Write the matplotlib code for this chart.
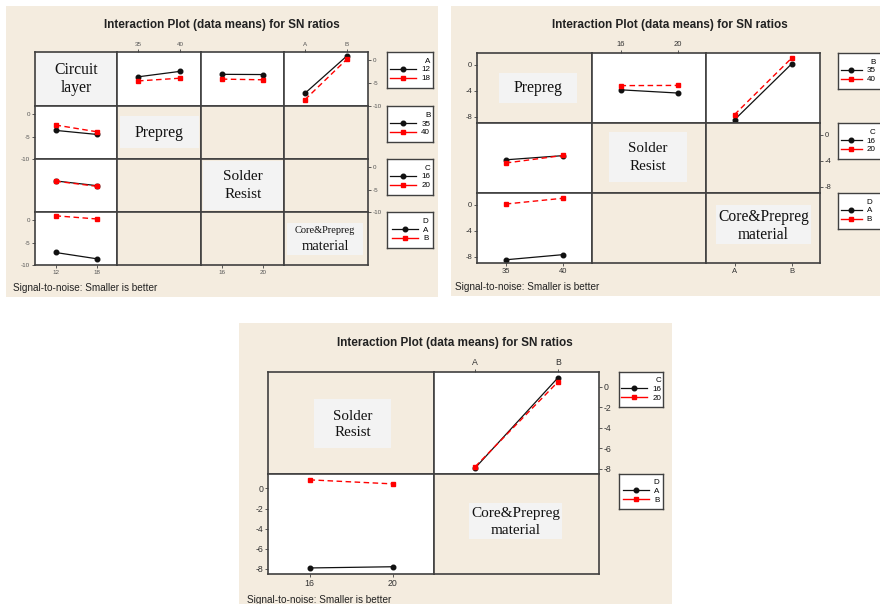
import matplotlib
matplotlib.use("Agg")
import matplotlib.pyplot as plt
from matplotlib.lines import Line2D
from matplotlib.patches import Rectangle

plt.rcParams['font.family'] = ['Liberation Sans', 'DejaVu Sans']
plt.rcParams['axes.unicode_minus'] = False

W, H = 880, 604
BEIGE = '#f4ecdf'
BOXGRAY = '#f3f3f3'
EDGE = '#404040'
RED = '#ff0000'

# factor levels
levels = {
    'A': ['12', '18'],
    'B': ['35', '40'],
    'C': ['16', '20'],
    'D': ['A', 'B'],
}

# S/N ratio means; rows = levels of first factor, cols = levels of second
p1_AB = [[-3.6, -2.4], [-4.5, -3.9]]
p1_AC = [[-3.05, -3.1], [-4.1, -4.25]]
p1_AD = [[-7.2, 1.0], [-8.6, 0.3]]
p2_BC = [[-3.85, -4.35], [-3.2, -3.17]]
p2_BD = [[-8.5, 0.15], [-7.7, 1.05]]
p3_CD = [[-7.9, 0.85], [-7.78, 0.45]]

title_text = 'Interaction Plot (data means) for SN ratios'
foot_text = 'Signal-to-noise: Smaller is better'


def fx(x):
    return x / W


def fy(y):
    return 1 - y / H


def rect(x0, y0, x1, y1):
    return [fx(x0), fy(y1), (x1 - x0) / W, (y1 - y0) / H]


fig = plt.figure(figsize=(W / 100, H / 100), dpi=100)
fig.patch.set_facecolor('white')


def draw_panel(p):
    fig.add_artist(Rectangle((fx(p['bg'][0]), fy(p['bg'][3])),
                             (p['bg'][2] - p['bg'][0]) / W,
                             (p['bg'][3] - p['bg'][1]) / H,
                             transform=fig.transFigure, fc=BEIGE, ec='none',
                             zorder=-5))
    fig.text(fx(p['title_xy'][0]), fy(p['title_xy'][1]), title_text,
             ha='center', va='center', size=8.5, weight='bold', color='#222222')
    fig.text(fx(p['foot_xy'][0]), fy(p['foot_xy'][1]), foot_text,
             ha='left', va='center', size=7.2, color='#222222')

    factors = p['factors']
    n = len(factors)
    xs, ys = p['xs'], p['ys']
    for i in range(n):
        for j in range(n):
            ax = fig.add_axes(rect(xs[j], ys[i], xs[j + 1], ys[i + 1]))
            ax.set_xlim(-0.5, 1.5)
            ax.set_ylim(*p['ylim'])
            ax.set_xticks([])
            ax.set_yticks([])
            for s in ax.spines.values():
                s.set_color(EDGE)
                s.set_linewidth(1.2)
            ax.tick_params(length=2, width=0.6, pad=1.5, colors=EDGE,
                           labelsize=p['tick_fs'], labelcolor=p['tick_color'])

            key = (factors[i], factors[j])
            rkey = (factors[j], factors[i])
            table = None
            if key in p['tables']:
                table = p['tables'][key]
            elif rkey in p['tables']:
                t = p['tables'][rkey]
                table = [[t[0][0], t[1][0]], [t[0][1], t[1][1]]]

            if i == j:
                ax.set_facecolor(BEIGE)
                bx = p['boxes'][i]
                ax.add_patch(Rectangle((fx(bx[0]), fy(bx[3])),
                                       (bx[2] - bx[0]) / W, (bx[3] - bx[1]) / H,
                                       transform=fig.transFigure, fc=BOXGRAY,
                                       ec='none', zorder=0.5))
                cx = (bx[0] + bx[2]) / 2
                for txt, ty, size in p['labels'][i]:
                    fig.text(fx(cx), fy(ty), txt, ha='center', va='center',
                             family='Liberation Serif', size=size,
                             color='#111111')
            elif table is not None:
                ax.set_facecolor('white')
                ax.plot([0, 1], table[0], color='#111111', lw=0.9,
                        marker='o', ms=3.3)
                ax.plot([0, 1], table[1], color=RED, lw=1.0,
                        ls=(0, (4, 2.5)), marker='s', ms=3.3)
            else:
                ax.set_facecolor(BEIGE)

            # x ticks alternate bottom / top by column
            lv = levels[factors[j]]
            if j % 2 == 0 and i == n - 1:
                ax.set_xticks([0, 1], lv)
            if j % 2 == 1 and i == 0:
                ax.xaxis.tick_top()
                ax.set_xticks([0, 1], lv)
            # y ticks alternate left / right by row, last row on the left
            if (n - 1 - i) % 2 == 0 and j == 0:
                ax.set_yticks(p['yticks'])
            if (n - 1 - i) % 2 == 1 and j == n - 1:
                ax.yaxis.tick_right()
                ax.set_yticks(p['yticks'])

    # one legend per row, for the factor that sets the line colour
    lx0, lx1 = p['legend_x']
    for i in range(n):
        lax = fig.add_axes(rect(lx0, ys[i], lx1, ys[i] + p['legend_h']))
        lax.set_facecolor('white')
        lax.set_xticks([])
        lax.set_yticks([])
        for s in lax.spines.values():
            s.set_color(EDGE)
            s.set_linewidth(1.0)
        hs = [Line2D([], [], color='#111111', lw=0.9, marker='o', ms=3.3),
              Line2D([], [], color=RED, lw=1.0, marker='s', ms=3.3)]
        lax.legend(hs, levels[factors[i]], title=factors[i],
                   loc=p['leg_loc'], frameon=False, fontsize=p['leg_fs'],
                   title_fontsize=p['leg_fs'], alignment='right',
                   numpoints=1, handlelength=p['leg_hl'], handletextpad=0.6,
                   labelspacing=0.15, borderpad=0,
                   borderaxespad=p['leg_pad'])


panels = [
    dict(bg=(6, 6, 438, 297), title_xy=(222, 25), foot_xy=(13, 288),
         factors=['A', 'B', 'C', 'D'],
         xs=[35, 117, 201, 284, 368], ys=[52, 106, 159, 212, 265],
         ylim=(-10, 1.85), yticks=[0, -5, -10],
         tables={('A', 'B'): p1_AB, ('A', 'C'): p1_AC, ('A', 'D'): p1_AD},
         boxes=[(36, 53, 116, 105), (120, 116, 199, 148),
                (203, 161, 283, 210), (287, 223, 363, 255)],
         labels=[[('Circuit', 70, 11.3), ('layer', 88, 11.3)],
                 [('Prepreg', 133, 11.3)],
                 [('Solder', 177, 11), ('Resist', 194, 11)],
                 [('Core&Prepreg', 230, 7.5), ('material', 246, 10.5)]],
         legend_x=(387, 433), legend_h=36, leg_fs=5.8, leg_loc='center',
         leg_hl=3.3, leg_pad=0,
         tick_fs=4.5, tick_color='#555555'),
    dict(bg=(451, 6, 880, 296), title_xy=(670, 25), foot_xy=(455, 287),
         factors=['B', 'C', 'D'],
         xs=[477, 592, 706, 820], ys=[53, 123, 193, 263],
         ylim=(-9.0, 1.86), yticks=[0, -4, -8],
         tables={('B', 'C'): p2_BC, ('B', 'D'): p2_BD},
         boxes=[(499, 73, 577, 103), (609, 132, 687, 182),
                (716, 205, 811, 244)],
         labels=[[('Prepreg', 88, 11.3)],
                 [('Solder', 148, 10.8), ('Resist', 166, 10.8)],
                 [('Core&Prepreg', 217, 11.2), ('material', 235, 11.2)]],
         legend_x=(838, 886), legend_h=36, leg_fs=5.8, leg_loc='center left',
         leg_hl=2.6, leg_pad=0.35,
         tick_fs=5.5, tick_color='#333333'),
    dict(bg=(239, 323, 672, 604), title_xy=(455, 343), foot_xy=(247, 600),
         factors=['C', 'D'],
         xs=[268, 434, 599], ys=[372, 474, 574],
         ylim=(-8.5, 1.43), yticks=[0, -2, -4, -6, -8],
         tables={('C', 'D'): p3_CD},
         boxes=[(314, 399, 391, 448), (469, 503, 562, 539)],
         labels=[[('Solder', 417, 10.8), ('Resist', 433, 10.8)],
                 [('Core&Prepreg', 513, 11), ('material', 530, 11)]],
         legend_x=(619, 663), legend_h=35, leg_fs=5.8, leg_loc='center',
         leg_hl=3.3, leg_pad=0,
         tick_fs=6.3, tick_color='#333333'),
]

for p in panels:
    draw_panel(p)

fig.savefig('out.png', dpi=100)
